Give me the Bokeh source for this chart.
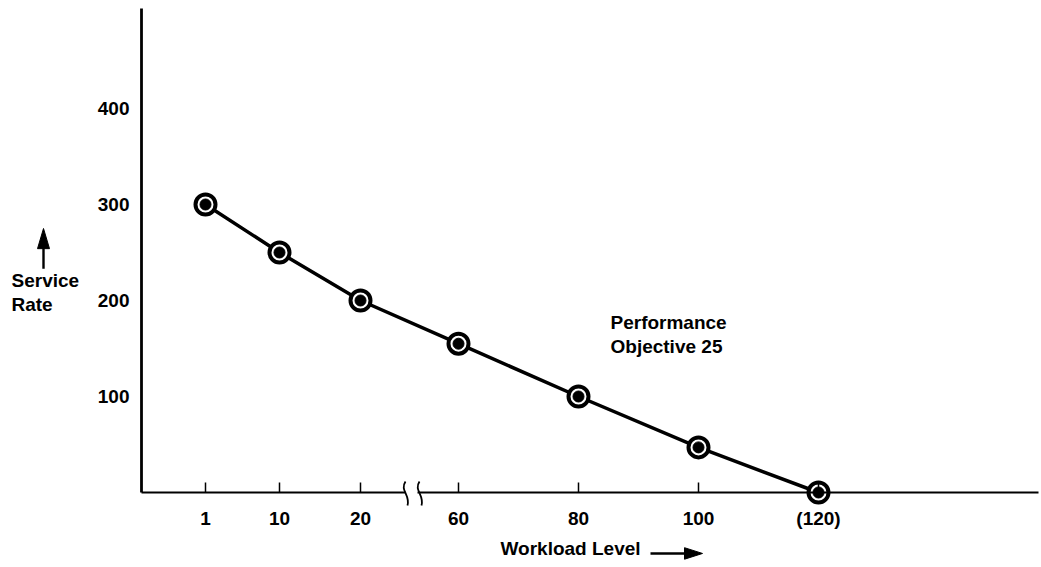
from bokeh.plotting import figure
from bokeh.models import Range1d, FixedTicker, Label, ColumnDataSource
from bokeh.embed import file_html
from bokeh.resources import INLINE

# ---- data ----
workload = [1, 10, 20, 60, 80, 100, 120]
workload_labels = ["1", "10", "20", "60", "80", "100", "(120)"]
service_rate = [300, 250, 200, 155, 100, 47, 0]
y_ticks = [100, 200, 300, 400]

# ---- broken axis scale: two linear segments with a break between 20 and 60 ----
def axis_pos(w):
    if w <= 30:
        return round(56 + 8.15 * w)
    return round(317 + 6.0 * (w - 60))

xpos = [axis_pos(w) for w in workload]
src = ColumnDataSource(dict(x=xpos, y=service_rate))

FONT = "Liberation Sans"
FSIZE = "19px"
FSTYLE = "bold"
PXY = 1 / 0.96          # data units of y per pixel

p = figure(width=1041, height=567, output_backend="svg", toolbar_location=None,
           x_range=Range1d(-141, 900), y_range=Range1d(-75 * PXY, 492 * PXY),
           min_border=0, min_border_left=0, min_border_right=0,
           min_border_top=0, min_border_bottom=0)
p.outline_line_color = None
p.grid.visible = False
p.background_fill_color = "white"
p.border_fill_color = "white"

# y axis (drawn at x = 0)
ya = p.yaxis[0]
ya.fixed_location = 0
ya.bounds = (0, 504)
ya.ticker = FixedTicker(ticks=y_ticks)
ya.axis_line_width = 2.8
ya.axis_line_color = "black"
ya.major_tick_line_color = None
ya.minor_tick_line_color = None
ya.major_label_text_font = FONT
ya.major_label_text_font_size = FSIZE
ya.major_label_text_font_style = FSTYLE
ya.major_label_text_color = "black"
ya.major_label_standoff = 6

# x axis (drawn at y = 0)
xa = p.xaxis[0]
xa.fixed_location = 0
xa.bounds = (0, 897)
xa.ticker = FixedTicker(ticks=xpos)
xa.major_label_overrides = {x: lab for x, lab in zip(xpos, workload_labels)}
xa.axis_line_width = 2.2
xa.axis_line_color = "black"
xa.major_tick_in = 10
xa.major_tick_out = 0
xa.major_tick_line_width = 1.5
xa.major_tick_line_color = "black"
xa.minor_tick_line_color = None
xa.major_label_text_font = FONT
xa.major_label_text_font_size = FSIZE
xa.major_label_text_font_style = FSTYLE
xa.major_label_text_color = "black"
xa.major_label_standoff = 15

# axis break: gap in the axis line and two wavy marks
bx = axis_pos(26)
p.quad(left=[bx - 4], right=[bx + 8], bottom=[-3 * PXY], top=[3 * PXY],
       fill_color="white", line_color=None, level="overlay")
for dx in (-5, 9):
    x0 = bx + dx
    p.bezier(x0=[x0 + 1], y0=[11 * PXY], x1=[x0 + 3], y1=[-13 * PXY],
             cx0=[x0 - 5], cy0=[2 * PXY], cx1=[x0 + 6], cy1=[-2 * PXY],
             line_color="black", line_width=1.8, level="overlay")

# series
p.line("x", "y", source=src, line_color="black", line_width=3.5, line_join="round")
p.scatter("x", "y", source=src, size=20, fill_color="white", line_color="black", line_width=4)
p.scatter("x", "y", source=src, size=11, fill_color="black", line_color="black")

# annotations
def lab(x, y, t):
    p.add_layout(Label(x=x, y=y, text=t, text_font=FONT, text_font_size=FSIZE,
                       text_font_style=FSTYLE, text_color="black",
                       text_baseline="middle", text_align="left"))

lab(-130, 221, "Service")
lab(-130, 196, "Rate")
# up arrow
p.segment(x0=[-98], y0=[233], x1=[-98], y1=[256], line_color="black", line_width=2.4)
p.patch(x=[-104, -98, -92], y=[254, 275, 254], fill_color="black", line_color="black")

lab(469, 177, "Performance")
lab(469, 152, "Objective 25")

lab(359, -58.5, "Workload Level")
# right arrow
p.segment(x0=[509], y0=[-63.5], x1=[546], y1=[-63.5], line_color="black", line_width=2.4)
p.patch(x=[543, 561, 543], y=[-63.5 + 6, -63.5, -63.5 - 6], fill_color="black", line_color="black")

open("out.html", "w").write(file_html(p, INLINE))
